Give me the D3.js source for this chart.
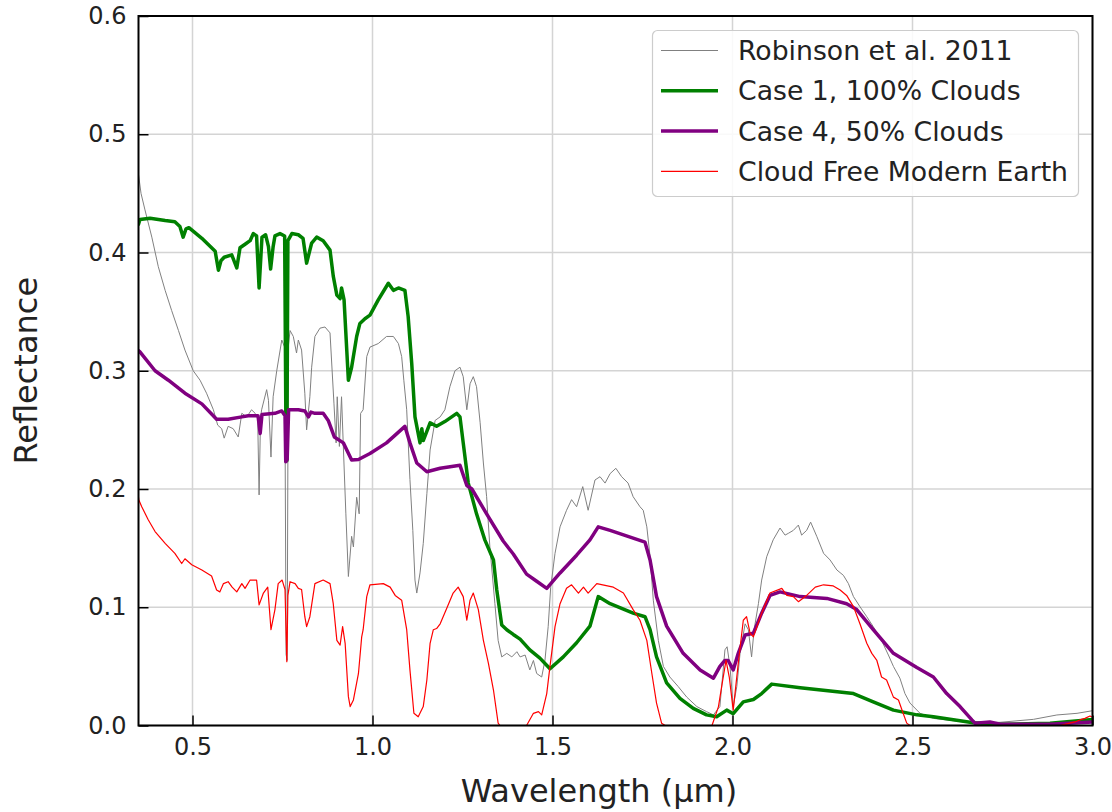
<!DOCTYPE html>
<html>
<head>
<meta charset="utf-8">
<script src="https://cdn.jsdelivr.net/npm/d3@7"></script>
<style>
  html, body { margin: 0; padding: 0; background: #ffffff; }
  svg { display: block; font-family: "DejaVu Sans", sans-serif; }
</style>
</head>
<body>
<svg id="chart" width="1112" height="812"></svg>
<script>
// Reflectance spectra, wavelength in micrometres

// Robinson et al. 2011 (thin gray)
const robinsonWl = [0.350,0.357,0.368,0.387,0.405,0.424,0.442,0.461,0.479,0.502,0.521,0.539,0.558,0.570,0.581,0.588,0.599,0.613,0.627,0.637,0.651,0.664,0.674,0.681,0.685,0.689,0.692,0.706,0.711,0.718,0.724,0.734,0.748,0.756,0.760,0.763,0.766,0.771,0.780,0.789,0.794,0.803,0.812,0.817,0.826,0.831,0.840,0.854,0.868,0.882,0.893,0.899,0.902,0.908,0.914,0.919,0.926,0.933,0.942,0.947,0.956,0.963,0.967,0.974,0.984,0.993,1.016,1.039,1.058,1.072,1.081,1.087,1.095,1.104,1.112,1.118,1.123,1.132,1.141,1.151,1.160,1.174,1.188,1.201,1.215,1.229,1.243,1.252,1.262,1.271,1.280,1.289,1.299,1.308,1.317,1.326,1.340,1.349,1.359,1.373,1.387,1.401,1.410,1.424,1.437,1.447,1.456,1.470,1.479,1.488,1.495,1.507,1.521,1.539,1.553,1.567,1.584,1.599,1.618,1.632,1.646,1.660,1.676,1.692,1.710,1.724,1.743,1.752,1.762,1.771,1.780,1.794,1.808,1.826,1.849,1.873,1.901,1.928,1.947,1.965,1.979,1.985,1.993,2.002,2.012,2.021,2.035,2.044,2.053,2.060,2.072,2.081,2.095,2.113,2.132,2.146,2.155,2.169,2.183,2.192,2.206,2.217,2.234,2.253,2.271,2.290,2.308,2.322,2.336,2.354,2.373,2.391,2.414,2.433,2.447,2.465,2.479,2.493,2.521,2.558,2.651,2.743,2.836,2.901,2.957,3.000];
const robinsonR  = [0.466,0.450,0.436,0.413,0.388,0.368,0.351,0.334,0.3175,0.300,0.292,0.281,0.267,0.254,0.251,0.243,0.253,0.251,0.244,0.264,0.261,0.267,0.264,0.260,0.195,0.260,0.267,0.284,0.275,0.227,0.278,0.300,0.326,0.320,0.060,0.055,0.320,0.334,0.329,0.315,0.326,0.3175,0.281,0.250,0.278,0.303,0.329,0.336,0.337,0.332,0.272,0.239,0.278,0.236,0.278,0.236,0.179,0.126,0.160,0.151,0.193,0.179,0.264,0.267,0.312,0.320,0.323,0.329,0.329,0.323,0.312,0.292,0.267,0.208,0.165,0.123,0.112,0.129,0.154,0.196,0.233,0.258,0.261,0.267,0.2865,0.300,0.303,0.295,0.267,0.289,0.295,0.2865,0.256,0.222,0.1935,0.151,0.103,0.072,0.058,0.061,0.058,0.0624,0.058,0.0596,0.047,0.055,0.044,0.041,0.055,0.0836,0.117,0.1456,0.168,0.182,0.191,0.185,0.202,0.182,0.2076,0.2104,0.205,0.213,0.2175,0.2104,0.205,0.1935,0.185,0.182,0.168,0.143,0.106,0.072,0.050,0.041,0.033,0.024,0.016,0.0117,0.009,0.016,0.064,0.0666,0.050,0.016,0.033,0.061,0.086,0.081,0.058,0.081,0.103,0.123,0.1427,0.157,0.167,0.161,0.1625,0.165,0.1695,0.161,0.165,0.172,0.160,0.1456,0.140,0.1315,0.127,0.120,0.109,0.1005,0.092,0.0836,0.072,0.0596,0.050,0.040,0.027,0.019,0.0103,0.006,0.0027,0.0027,0.0052,0.0089,0.0103,0.0125];

// Case 1, 100% clouds (green)
const case1Wl = [0.350,0.354,0.382,0.424,0.451,0.465,0.474,0.482,0.490,0.526,0.563,0.572,0.579,0.588,0.609,0.623,0.632,0.646,0.660,0.669,0.678,0.685,0.693,0.703,0.711,0.717,0.724,0.729,0.743,0.756,0.760,0.762,0.765,0.776,0.794,0.807,0.817,0.831,0.845,0.863,0.882,0.891,0.901,0.910,0.914,0.921,0.933,0.942,0.956,0.965,0.979,0.993,1.016,1.044,1.058,1.072,1.090,1.099,1.109,1.118,1.132,1.137,1.141,1.160,1.178,1.201,1.234,1.243,1.252,1.266,1.289,1.312,1.336,1.345,1.359,1.373,1.391,1.410,1.437,1.465,1.493,1.530,1.567,1.604,1.627,1.660,1.724,1.757,1.771,1.789,1.817,1.854,1.891,1.928,1.956,1.984,2.002,2.030,2.058,2.081,2.109,2.188,2.336,2.391,2.447,2.512,2.558,2.669,2.743,2.882,3.000];
const case1R  = [0.424,0.428,0.429,0.427,0.426,0.422,0.413,0.420,0.421,0.412,0.401,0.385,0.393,0.396,0.398,0.387,0.404,0.407,0.410,0.416,0.414,0.370,0.413,0.415,0.405,0.386,0.405,0.414,0.416,0.414,0.230,0.224,0.410,0.416,0.415,0.412,0.391,0.408,0.413,0.410,0.402,0.380,0.364,0.361,0.370,0.360,0.292,0.303,0.329,0.340,0.344,0.347,0.360,0.374,0.368,0.370,0.368,0.346,0.306,0.261,0.239,0.251,0.241,0.256,0.253,0.257,0.264,0.261,0.239,0.205,0.179,0.157,0.140,0.115,0.085,0.081,0.077,0.073,0.064,0.057,0.048,0.058,0.070,0.084,0.109,0.103,0.095,0.092,0.081,0.058,0.036,0.023,0.0145,0.009,0.0074,0.013,0.010,0.020,0.022,0.027,0.035,0.032,0.027,0.020,0.013,0.009,0.0074,0.0024,0.001,0.002,0.005];

// Case 4, 50% clouds (purple)
const case4Wl = [0.350,0.354,0.396,0.433,0.479,0.526,0.567,0.599,0.637,0.655,0.682,0.688,0.693,0.729,0.748,0.757,0.759,0.763,0.767,0.794,0.812,0.822,0.829,0.840,0.863,0.877,0.894,0.919,0.942,0.961,0.993,1.039,1.090,1.104,1.123,1.151,1.188,1.243,1.262,1.276,1.317,1.363,1.391,1.428,1.456,1.484,1.521,1.567,1.604,1.627,1.660,1.757,1.771,1.789,1.817,1.863,1.910,1.947,1.965,1.979,1.988,2.002,2.016,2.035,2.058,2.081,2.104,2.132,2.188,2.262,2.317,2.345,2.391,2.447,2.512,2.558,2.595,2.632,2.665,2.674,2.715,2.743,2.882,3.000];
const case4R  = [0.317,0.316,0.300,0.292,0.281,0.272,0.259,0.259,0.261,0.262,0.262,0.247,0.263,0.264,0.266,0.262,0.223,0.225,0.267,0.267,0.266,0.261,0.265,0.264,0.264,0.258,0.244,0.239,0.2245,0.225,0.230,0.239,0.253,0.239,0.222,0.2146,0.2175,0.220,0.203,0.200,0.179,0.156,0.145,0.128,0.122,0.116,0.129,0.144,0.157,0.168,0.165,0.155,0.140,0.109,0.084,0.061,0.047,0.040,0.050,0.055,0.055,0.047,0.061,0.0765,0.078,0.095,0.110,0.113,0.109,0.1075,0.103,0.098,0.081,0.061,0.049,0.041,0.027,0.016,0.0047,0.002,0.003,0.001,0.001,0.003];

// Cloud free modern Earth (thin red)
const clearWl = [0.350,0.351,0.359,0.377,0.396,0.424,0.451,0.470,0.479,0.498,0.526,0.553,0.567,0.576,0.586,0.599,0.610,0.623,0.637,0.646,0.660,0.678,0.685,0.697,0.709,0.718,0.729,0.738,0.749,0.757,0.762,0.765,0.771,0.785,0.794,0.803,0.812,0.817,0.826,0.840,0.863,0.882,0.891,0.901,0.910,0.917,0.924,0.933,0.938,0.947,0.961,0.970,0.974,0.984,0.993,1.030,1.049,1.063,1.081,1.095,1.104,1.115,1.127,1.141,1.151,1.160,1.169,1.178,1.188,1.206,1.224,1.238,1.252,1.262,1.271,1.280,1.294,1.308,1.322,1.336,1.349,1.354,1.428,1.447,1.461,1.470,1.484,1.493,1.507,1.521,1.539,1.553,1.572,1.586,1.599,1.623,1.669,1.697,1.724,1.743,1.762,1.776,1.789,1.803,1.813,1.943,1.961,1.971,1.982,1.991,2.002,2.016,2.030,2.039,2.049,2.058,2.081,2.104,2.137,2.151,2.169,2.183,2.206,2.230,2.253,2.280,2.299,2.317,2.336,2.354,2.373,2.387,2.401,2.414,2.428,2.447,2.461,2.474,2.484,2.493,2.910,2.951,2.965,2.979,2.993,3.000];
const clearR  = [0.193,0.1907,0.185,0.174,0.164,0.154,0.1456,0.137,0.141,0.136,0.1315,0.1264,0.1146,0.113,0.120,0.1216,0.117,0.113,0.120,0.116,0.123,0.123,0.102,0.112,0.117,0.081,0.098,0.120,0.123,0.115,0.054,0.110,0.1216,0.120,0.116,0.115,0.092,0.0836,0.092,0.120,0.123,0.120,0.103,0.072,0.068,0.0836,0.0695,0.0244,0.016,0.0216,0.044,0.075,0.081,0.109,0.119,0.120,0.117,0.110,0.106,0.081,0.047,0.0103,0.0074,0.016,0.0385,0.0695,0.081,0.082,0.086,0.099,0.112,0.117,0.109,0.089,0.106,0.112,0.098,0.072,0.0526,0.030,0.002,0.000,0.000,0.0103,0.0117,0.009,0.027,0.050,0.0836,0.103,0.116,0.119,0.112,0.117,0.112,0.120,0.117,0.112,0.098,0.089,0.072,0.044,0.019,0.002,0.000,0.000,0.016,0.035,0.055,0.041,0.013,0.0526,0.089,0.092,0.078,0.075,0.095,0.112,0.116,0.110,0.109,0.1047,0.110,0.117,0.119,0.118,0.1146,0.110,0.1005,0.086,0.0695,0.061,0.055,0.041,0.0385,0.024,0.0216,0.0103,0.002,0.000,0.000,0.003,0.0047,0.006,0.008,0.007];

const xTicks = [0.5, 1.0, 1.5, 2.0, 2.5, 3.0];
const yTicks = [0.0, 0.1, 0.2, 0.3, 0.4, 0.5, 0.6];

const series = [
  { label: "Robinson et al. 2011",      wl: robinsonWl, r: robinsonR, color: "#808080", width: 1.0 },
  { label: "Case 1, 100% Clouds",       wl: case1Wl,    r: case1R,    color: "#008000", width: 3.5 },
  { label: "Case 4, 50% Clouds",        wl: case4Wl,    r: case4R,    color: "#800080", width: 3.5 },
  { label: "Cloud Free Modern Earth",   wl: clearWl,    r: clearR,    color: "#ff0000", width: 1.2 }
];

const svg = d3.select("#chart");
const plot = { left: 138.5, right: 1092.5, top: 16, bottom: 725.5 };

const x = d3.scaleLinear().domain([0.35, 3.0]).range([plot.left, plot.right]);
const y = d3.scaleLinear().domain([0, 0.6]).range([plot.bottom, plot.top]);

// grid
const grid = svg.append("g").attr("stroke", "#d4d4d4").attr("stroke-width", 1.5);
grid.selectAll("line.gx").data(xTicks).join("line")
  .attr("x1", d => x(d)).attr("x2", d => x(d))
  .attr("y1", plot.top).attr("y2", plot.bottom);
grid.selectAll("line.gy").data(yTicks).join("line")
  .attr("x1", plot.left).attr("x2", plot.right)
  .attr("y1", d => y(d)).attr("y2", d => y(d));

// clip for the spectra
svg.append("clipPath").attr("id", "plotClip").append("rect")
  .attr("x", plot.left).attr("y", plot.top)
  .attr("width", plot.right - plot.left).attr("height", plot.bottom - plot.top);

const line = d3.line().x(d => x(d[0])).y(d => y(d[1]));
const lines = svg.append("g").attr("clip-path", "url(#plotClip)");
series.forEach(s => {
  const pts = s.wl.map((w, i) => [w, s.r[i]]);
  lines.append("path").datum(pts)
    .attr("d", line)
    .attr("fill", "none")
    .attr("stroke", s.color)
    .attr("stroke-width", s.width)
    .attr("stroke-linejoin", "round")
    .attr("stroke-linecap", "round");
});

// axes with inward ticks
const xAxis = d3.axisBottom(x).tickValues(xTicks).tickFormat(d3.format(".1f"))
  .tickSize(-10).tickPadding(12.5);
const yAxis = d3.axisLeft(y).tickValues(yTicks).tickFormat(d3.format(".1f"))
  .tickSize(-10).tickPadding(12);

const gx = svg.append("g").attr("transform", `translate(0,${plot.bottom})`).call(xAxis);
const gy = svg.append("g").attr("transform", `translate(${plot.left},0)`).call(yAxis);
[gx, gy].forEach(g => {
  g.select(".domain").remove();
  g.selectAll(".tick line").attr("stroke", "#000").attr("stroke-width", 1.5);
  g.selectAll(".tick text").attr("fill", "#222").style("font-size", "24px")
    .style("font-family", "'DejaVu Sans', sans-serif");
});

// frame
svg.append("rect")
  .attr("x", plot.left).attr("y", plot.top)
  .attr("width", plot.right - plot.left).attr("height", plot.bottom - plot.top)
  .attr("fill", "none").attr("stroke", "#000").attr("stroke-width", 2);

// axis titles
svg.append("text")
  .attr("x", 599).attr("y", 802)
  .attr("text-anchor", "middle").attr("fill", "#222")
  .style("font-size", "32px")
  .text("Wavelength (µm)");
svg.append("text")
  .attr("transform", `translate(37,${(plot.top + plot.bottom) / 2}) rotate(-90)`)
  .attr("text-anchor", "middle").attr("fill", "#222")
  .style("font-size", "32px")
  .text("Reflectance");

// legend
const legend = svg.append("g");
legend.append("rect")
  .attr("x", 652.5).attr("y", 30.5).attr("width", 426).attr("height", 166)
  .attr("rx", 5).attr("fill", "#ffffff").attr("fill-opacity", 0.85)
  .attr("stroke", "#cccccc").attr("stroke-width", 1.2);
const rows = legend.selectAll("g.row").data(series).join("g")
  .attr("transform", (d, i) => `translate(0,${50.5 + i * 40.3})`);
rows.append("line")
  .attr("x1", 661).attr("x2", 718).attr("y1", 0).attr("y2", 0)
  .attr("stroke", d => d.color).attr("stroke-width", d => d.width);
rows.append("text")
  .attr("x", 738).attr("y", 9.5)
  .attr("fill", "#222").style("font-size", "26.7px")
  .text(d => d.label);
</script>
</body>
</html>
